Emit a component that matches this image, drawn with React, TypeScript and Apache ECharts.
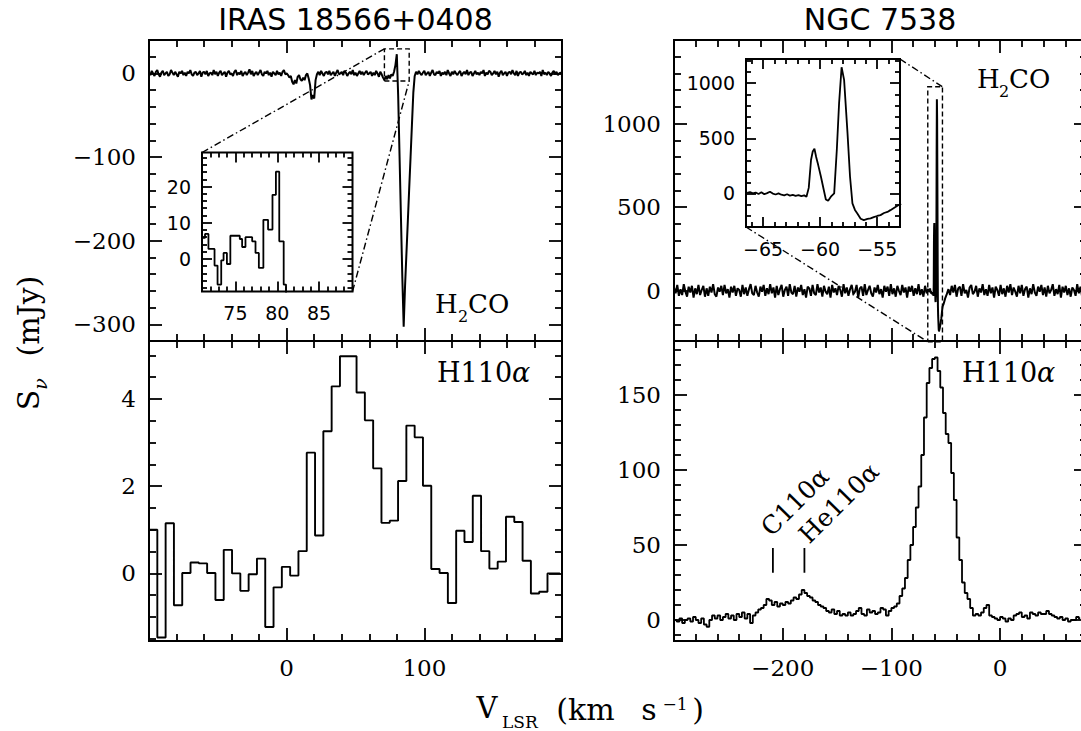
import React, { useEffect, useRef } from "react";
import * as echarts from "echarts";

// ================= DATA =================
// IRAS 18566+0408 – H2CO spectrum (mJy), channels from -100 km/s, 1 km/s apart
const IRAS_H2CO_V0 = -100;
const IRAS_H2CO_DV = 1;
const irasH2co = [
  1, -2, 3, 0, -3, 2, 4, -1, -4, 1,
  3, -2, 0, 2, -3, -1, 4, 1, -2, 2,
  -1, -4, 2, 0, 3, -2, 1, -3, 2, 0,
  4, -1, -3, 1, 2, -2, 0, 3, -4, 1,
  2, -1, 3, -3, 0, 1, -2, 4, -1, 2,
  -3, 1, 3, -2, 0, 2, -4, 1, 3, -1,
  0, -3, 2, 4, -2, 1, -1, 3, -3, 0,
  2, -2, 1, 5, -1, 3, -3, 0, 2, -2,
  1, 4, -1, -3, 2, 0, 3, -2, 1, -4,
  2, 0, -2, 3, -1, 1, -3, 2, 4, -1,
  0, -2, -5, -3, -10, -13, -8, -12, -4, -2,
  -7, -9, -5, -8, -2, 0, -6, -14, -31, -26,
  -30, -8, -1, 2, -2, 3, 0, -3, 1, 2,
  -1, 3, -2, 0, 2, -3, 1, 4, -1, 0,
  2, -2, 3, 1, -3, 0, 2, -1, 4, -2,
  1, -3, 0, 3, -1, 2, -2, 1, 3, -1,
  0, 2, -3, 1, -2, 3, 0, -4, 2, -1,
  -5, -8, -3, -7, -2, -6, -1, -3, 2, 10,
  23, -27, -99, -171, -243, -303, -254, -215, -177, -138,
  -100, -61, -23, -3, 2, -1, 3, 0, -2, 1,
  3, -2, 0, 2, -3, 1, 4, -1, -2, 2,
  0, 3, -3, 1, -1, 2, -2, 4, 0, -3,
  2, -1, 3, 0, -2, 1, 3, -3, 0, 2,
  -1, 4, -2, 1, 2, -3, 0, 3, -1, 1,
  -2, 2, 0, 4, -3, 1, -1, 3, 2, -2,
  0, 3, -1, 2, -4, 1, 3, -2, 0, 2,
  -3, 1, 2, -1, 4, 0, -2, 3, -3, 1,
  2, -1, 0, 3, -2, 1, -3, 2, 0, -1,
  3, -2, 1, 0, 2, -3, 4, -1, 1, -2,
  2, 0, -3, 1, 3, -1, 2, -2, 0, 1, -1,
];

// IRAS inset (zoom of 71–89 km/s): bin left edges (km/s) and flux (mJy)
const irasInsetEdges = [
  70.9, 71.36, 71.77, 72.5, 72.86, 73.3, 73.58, 73.98, 74.39, 75.52, 75.8, 76.2,
  77.0, 77.4, 77.8, 78.34, 78.9, 79.43, 79.84, 80.24, 80.77, 81.05, 81.5, 82.0,
  83.0, 84.0, 85.0, 86.0, 87.0, 88.0, 89.0, 89.5,
];
const irasInsetFlux = [
  5.8, 6.9, 2.75, -1.85, -7.1, -0.4, 1.65, -1.4, 6.4, 5.5, 3.3, 6.0,
  4.85, 1.65, -2.5, 10.8, 8.1, 17.7, 24.1, 4.85, -7.1, -30, -80, -150,
  -230, -300, -260, -210, -160, -110, -60, -30,
];

// IRAS H110α (mJy), channel centres from -103 km/s, 6.03 km/s apart
const IRAS_H110_V0 = -103;
const IRAS_H110_DV = 6.03;
const irasH110 = [
  1.0, 1.0, -1.47, 1.15, -0.73, 0.01, 0.25, 0.23, 0.01, -0.61, 0.54,
  0.0, -0.4, -0.02, 0.34, -1.23, -0.32, 0.15, -0.05, 0.51, 2.77,
  0.87, 3.26, 4.29, 4.98, 4.98, 4.15, 3.51, 2.41, 1.16, 1.21,
  2.12, 3.39, 3.12, 2.01, 0.1, 0.01, -0.68, 0.98, 0.72, 1.78,
  0.51, 0.11, 0.27, 1.3, 1.18, 0.29, -0.46, -0.42, 0.0, 0.0,
];

// NGC 7538 – H2CO (mJy): low-velocity channels from -300 km/s, 1.5 km/s apart
const NGC_H2CO_LOW_V0 = -300;
const NGC_H2CO_DV = 1.5;
const ngcH2coLow = [
  20, -15, 35, -30, 10, -25, 40, -5, -35, 25,
  -10, 30, -40, 15, -20, 35, -25, 5, 30, -35,
  15, -30, 25, -10, 40, -20, -35, 20, -5, 30,
  -25, 35, -15, 10, -40, 25, -10, 30, -30, 15,
  5, -35, 35, -20, 20, -30, 10, 40, -15, -25,
  30, -10, -35, 25, -5, 35, -30, 15, -20, 40,
  -15, 20, -40, 30, -25, 10, 35, -35, 5, 25,
  -30, 40, -10, -20, 30, -35, 20, -5, 35, -25,
  10, -40, 25, 15, -30, 35, -15, -25, 40, -10,
  20, -35, 30, -5, -20, 25, -40, 35, -10, 15,
  -25, 30, 5, -35, 40, -15, 20, -30, 10, 35,
  -20, -5, 35, -40, 15, 25, -30, 40, -25, 5,
  30, -15, -35, 20, -10, 35, -20, 10, -40, 30,
  -5, 25, -30, 40, -20, 15, -35, 30, 0, -25,
  35, -10, 20, -40, 25, -5, 30, -30, 15, -20,
  40, -25, 10, -35, 30, -15,
];
// NGC 7538 – H2CO core (also the inset): velocity (km/s) and flux (mJy)
const ngcCoreV = [
  -66.4, -66.15, -65.9, -65.65, -65.4, -65.15, -64.9, -64.65, -64.4, -64.15,
  -63.9, -63.65, -63.4, -63.15, -62.9, -62.65, -62.4, -62.15, -61.9, -61.65,
  -61.4, -61.2, -61.0, -60.8, -60.65, -60.5, -60.35, -60.17, -59.93, -59.7,
  -59.5, -59.3, -59.06, -58.77, -58.54, -58.34, -58.12, -57.9, -57.6, -57.38,
  -57.17, -56.95, -56.74, -56.45, -56.17, -55.85, -55.58, -55.3, -55.0, -54.71,
  -54.4, -54.1, -53.84, -53.5, -53.12, -52.9,
];
const ngcCoreFlux = [
  5, 12, 0, 8, -5, 10, -8, 3, 15, -2,
  -10, 0, -12, -18, -8, -20, -14, -22, -16, -25,
  -18, -30, 50, 303, 380, 405, 330, 257, 151, 40,
  -55, -67, -30, 0, 394, 818, 1145, 1030, 545, 151,
  -91, -150, -182, -230, -243, -232, -227, -215, -205, -197,
  -178, -168, -152, -130, -106, -95,
];
// NGC 7538 – H2CO high-velocity channels from -52 km/s, 1.5 km/s apart
const NGC_H2CO_HIGH_V0 = -52;
const ngcH2coHigh = [
  -80, -45, -20, 10, -25, 30, -10, 35, -35, 15,
  25, -30, 40, -15, 5, -40, 20, 35, -20, -5,
  30, -35, 15, -10, 40, -25, 10, -30, 35, -15,
  20, -40, 25, 5, -30, 35, -20, 15, -35, 30,
  -10, 40, -25, 20, -5, -35, 30, -15, 35, -30,
  10, 25, -40, 15, -20, 40, -10, -30, 25, -5,
  35, -25, 20, -35, 30, -15, 5, 40, -30, 10,
  -20, 35, -40, 25, -10, 30, -25, 15, -35, 20,
  5, -30, 40, -15, 25, -35, 10, 30, -20,
];

// NGC 7538 H110α (mJy), channel centres from -301.25 km/s, 2.5 km/s apart
const NGC_H110_V0 = -301.25;
const NGC_H110_DV = 2.5;
const ngcH110 = [
  0,
  0, -1, 1, -2, 0, 1, -1, 2, 0, -2,
  1, -3, -4.5, 0, 3, 1, 3, 0, 2, 4,
  1, 3, 0, 4, 2, 5, 1, 4, -2, 3,
  5, 7, 8, 10, 14, 13, 10, 12, 9, 11,
  10, 12, 11, 13, 15, 14, 17, 20, 18, 16,
  15, 13, 12, 10, 9, 8, 6, 5, 7, 4,
  6, 3, 4, 3, 5, 3, 4, 6, 8, 4,
  3, 7, 5, 6, 4, 5, 8, 7, 3, 6,
  8, 9, 11, 16, 21, 28, 40, 50, 62, 75,
  89, 110, 135, 158, 168, 174, 175, 166, 155, 138,
  124, 118, 98, 80, 55, 40, 25, 18, 14, 8,
  3, 4, 3, 5, 8, 10, 3, 2, 1, 0,
  2, 1, -1, 1, 0, 3, 4, 5, 2, 3,
  1, 5, 4, 3, 5, 4, 4, 6, 4, 3,
  2, 1, 2, 0, 1, -1, 0, 0, 2, 1,
];

// C110α / He110α marker positions (km/s) and their extent (mJy)
const recombMarkV = [-209, -180];
const recombMarkS = [31.5, 48];

// tick labels
const irasH2coYLabels = [-300, -200, -100, 0];
const irasH110YLabels = [0, 2, 4];
const irasXLabels = [0, 100];
const ngcH2coYLabels = [0, 500, 1000];
const ngcH110YLabels = [0, 50, 100, 150];
const ngcXLabels = [-200, -100, 0];
const irasInsetXLabels = [75, 80, 85];
const irasInsetYLabels = [0, 10, 20];
const ngcInsetXLabels = [-65, -60, -55];
const ngcInsetYLabels = [0, 500, 1000];

// axis ranges
const IRAS_X: [number, number] = [-100, 200];
const NGC_X: [number, number] = [-300, 80];
const IRAS_H2CO_Y: [number, number] = [-320, 40];
const IRAS_H110_Y: [number, number] = [-1.55, 5.33];
const NGC_H2CO_Y: [number, number] = [-300, 1500];
const NGC_H110_Y: [number, number] = [-14, 186];
const IRAS_INSET_X: [number, number] = [71, 89];
const IRAS_INSET_Y: [number, number] = [-9, 29.4];
const NGC_INSET_X: [number, number] = [-66.5, -53];
const NGC_INSET_Y: [number, number] = [-305, 1220];

// ================= HELPERS =================
const BLACK = "#000";
const fmt = (v: number) => (v < 0 ? "\u2212" + Math.abs(v) : String(v));

function tickRange(min: number, max: number, step: number) {
  const out: number[] = [];
  const start = Math.ceil(min / step - 1e-9) * step;
  for (let k = 0; start + k * step <= max + 1e-9; k++) {
    const v = Math.round((start + k * step) * 1e6) / 1e6;
    if (v > min + 1e-6 && v < max - 1e-6) out.push(v);
  }
  return out;
}

function boxAxes(
  dim: "x" | "y",
  gi: number,
  r: [number, number],
  major: number,
  minor: number,
  labels: number[] | null,
  labelStyle: any,
  majLen: number,
  minLen: number
) {
  const posA = dim === "x" ? "bottom" : "left";
  const posB = dim === "x" ? "top" : "right";
  const majors = tickRange(r[0], r[1], major);
  const minors = tickRange(r[0], r[1], minor).filter(
    (v) => !majors.some((m) => Math.abs(m - v) < 1e-6)
  );
  const mk = (pos: string, vals: number[], len: number, lab: boolean) => ({
    type: "value",
    gridIndex: gi,
    min: r[0],
    max: r[1],
    position: pos,
    axisLine: { show: false, onZero: false },
    splitLine: { show: false },
    splitArea: { show: false },
    minorTick: { show: false },
    axisPointer: { show: false },
    axisTick: {
      show: true,
      inside: true,
      length: len,
      customValues: vals,
      lineStyle: { color: BLACK, width: 1.8 },
    },
    axisLabel:
      lab && labels
        ? { show: true, customValues: labels, formatter: (v: number) => fmt(v), ...labelStyle }
        : { show: false },
  });
  return [
    mk(posA, majors, majLen, true),
    mk(posA, minors, minLen, false),
    mk(posB, majors, majLen, false),
    mk(posB, minors, minLen, false),
  ];
}

const chan = (v0: number, dv: number, arr: number[]) =>
  arr.map((s, i) => [Math.round((v0 + i * dv) * 1000) / 1000, s]);
const pairs = (vs: number[], ss: number[]) => vs.map((v, i) => [v, ss[i]]);

function T(text: string, x: number, y: number, size: number, o: any = {}) {
  const align = o.align || "left";
  return {
    type: "text",
    x,
    y,
    rotation: o.rot || 0,
    silent: true,
    z: 50,
    style: {
      text,
      fill: BLACK,
      fontSize: size,
      fontFamily: o.family || "DejaVu Serif",
      fontStyle: o.italic ? "italic" : "normal",
      align,
      verticalAlign: "middle",
      textAlign: align,
      textVerticalAlign: "middle",
    },
  };
}

export default function App() {
  const ref = useRef<HTMLDivElement>(null);

  useEffect(() => {
    if (!ref.current) return;
    const chart = echarts.init(ref.current, null, { renderer: "svg" });

    const mainY = { color: BLACK, fontFamily: "DejaVu Serif", fontSize: 23, margin: 13 };
    const mainX = { color: BLACK, fontFamily: "DejaVu Serif", fontSize: 23, margin: 15 };
    const insY = { color: BLACK, fontFamily: "DejaVu Sans", fontSize: 19, margin: 11 };
    const insX = { color: BLACK, fontFamily: "DejaVu Sans", fontSize: 19, margin: 12 };

    const gridBase = {
      show: true,
      borderColor: BLACK,
      borderWidth: 2,
      backgroundColor: "transparent",
      containLabel: false,
      outerBoundsMode: "none",
    };
    const grid = [
      { ...gridBase, left: 149, top: 40, width: 413, height: 301 },
      { ...gridBase, left: 149, top: 341, width: 413, height: 300 },
      { ...gridBase, left: 674, top: 40, width: 413, height: 301 },
      { ...gridBase, left: 674, top: 341, width: 413, height: 300 },
      { ...gridBase, left: 202, top: 152.5, width: 150.5, height: 139, backgroundColor: "#fff" },
      { ...gridBase, left: 746, top: 59, width: 154, height: 168, backgroundColor: "#fff" },
    ];

    const xAxis = [
      ...boxAxes("x", 0, IRAS_X, 100, 20, null, mainX, 13, 7),
      ...boxAxes("x", 1, IRAS_X, 100, 20, irasXLabels, mainX, 13, 7),
      ...boxAxes("x", 2, NGC_X, 100, 20, null, mainX, 13, 7),
      ...boxAxes("x", 3, NGC_X, 100, 20, ngcXLabels, mainX, 13, 7),
      ...boxAxes("x", 4, IRAS_INSET_X, 5, 1, irasInsetXLabels, insX, 10, 5),
      ...boxAxes("x", 5, NGC_INSET_X, 5, 1, ngcInsetXLabels, insX, 10, 5),
    ];
    const yAxis = [
      ...boxAxes("y", 0, IRAS_H2CO_Y, 100, 20, irasH2coYLabels, mainY, 13, 7),
      ...boxAxes("y", 1, IRAS_H110_Y, 2, 0.5, irasH110YLabels, mainY, 13, 7),
      ...boxAxes("y", 2, NGC_H2CO_Y, 500, 100, ngcH2coYLabels, mainY, 13, 7),
      ...boxAxes("y", 3, NGC_H110_Y, 50, 10, ngcH110YLabels, mainY, 13, 7),
      ...boxAxes("y", 4, IRAS_INSET_Y, 10, 2, irasInsetYLabels, insY, 10, 5),
      ...boxAxes("y", 5, NGC_INSET_Y, 500, 100, ngcInsetYLabels, insY, 10, 5),
    ];

    const lineS = (g: number, data: number[][], width: number, step?: string) => ({
      type: "line",
      xAxisIndex: g * 4,
      yAxisIndex: g * 4,
      data,
      step: step || false,
      showSymbol: false,
      symbol: "none",
      silent: true,
      clip: true,
      lineStyle: { color: BLACK, width },
      z: 5,
    });

    const ngcCore = pairs(ngcCoreV, ngcCoreFlux);
    const ngcMain = [
      ...chan(NGC_H2CO_LOW_V0, NGC_H2CO_DV, ngcH2coLow),
      ...ngcCore,
      ...chan(NGC_H2CO_HIGH_V0, NGC_H2CO_DV, ngcH2coHigh),
    ];

    const series: any[] = [
      lineS(0, chan(IRAS_H2CO_V0, IRAS_H2CO_DV, irasH2co), 2),
      lineS(1, chan(IRAS_H110_V0, IRAS_H110_DV, irasH110), 1.9, "middle"),
      lineS(2, ngcMain, 2),
      lineS(3, chan(NGC_H110_V0, NGC_H110_DV, ngcH110), 1.8, "middle"),
      lineS(4, pairs(irasInsetEdges, irasInsetFlux), 1.8, "end"),
      lineS(5, ngcCore, 1.8),
      ...recombMarkV.map((v) => lineS(3, [[v, recombMarkS[0]], [v, recombMarkS[1]]], 1.8)),
    ];

    chart.setOption({
      animation: false,
      backgroundColor: "#fff",
      grid,
      xAxis,
      yAxis,
      series,
    });

    const px = (g: number, x: number, y: number) =>
      chart.convertToPixel({ xAxisIndex: g * 4, yAxisIndex: g * 4 } as any, [x, y]) as number[];
    const poly = (pts: number[][], dash: number[]) => ({
      type: "polyline",
      silent: true,
      z: 40,
      shape: { points: pts },
      style: { stroke: BLACK, lineWidth: 1.4, lineDash: dash, fill: null },
    });
    const dashDot = [7, 3, 1.5, 3];

    const [ix0, ix1] = IRAS_INSET_X;
    const [iy0, iy1] = IRAS_INSET_Y;
    const [nx0, nx1] = NGC_INSET_X;
    const [ny0, ny1] = NGC_INSET_Y;

    const graphic: any[] = [
      // zoom boxes + connectors
      poly([px(0, ix0, iy0), px(0, ix1, iy0), px(0, ix1, iy1), px(0, ix0, iy1), px(0, ix0, iy0)], [5, 3]),
      poly([px(4, ix0, iy1), px(0, ix0, iy1)], dashDot),
      poly([px(4, ix1, iy0), px(0, ix1, iy0)], dashDot),
      poly([px(2, nx0, ny0), px(2, nx1, ny0), px(2, nx1, ny1), px(2, nx0, ny1), px(2, nx0, ny0)], [5, 3]),
      poly([px(5, nx1, ny1), px(2, nx1, ny1)], dashDot),
      poly([px(5, nx0, ny0), px(2, nx0, ny0)], dashDot),

      // titles
      T("IRAS 18566+0408", 355.5, 19.5, 30, { family: "DejaVu Sans", align: "center" }),
      T("NGC 7538", 880, 19.5, 30, { family: "DejaVu Sans", align: "center" }),

      // species labels
      T("H", 435, 304.3, 26),
      T("2", 458, 316.2, 16),
      T("CO", 468, 304.3, 26),
      T("H", 977, 79.3, 26),
      T("2", 999, 91.2, 16),
      T("CO", 1009, 79.3, 26),
      T("H110", 437, 372.4, 27),
      T("α", 512, 372.4, 27, { italic: true }),
      T("H110", 962, 372.4, 27),
      T("α", 1037, 372.4, 27, { italic: true }),
      T("C110α", 795, 502, 25, { rot: Math.PI / 4, align: "center" }),
      T("He110α", 839, 503, 25, { rot: Math.PI / 4, align: "center" }),

      // y axis title
      T("S", 28, 400, 30, { rot: Math.PI / 2, align: "center" }),
      T("ν", 40, 384, 19, { rot: Math.PI / 2, align: "center", italic: true }),
      T("(mJy)", 28, 316, 30, { rot: Math.PI / 2, align: "center" }),

      // x axis title
      T("V", 487, 708.3, 29, { align: "center" }),
      T("LSR", 502, 721.5, 17),
      T("(km", 585.5, 709.3, 30, { align: "center" }),
      T("s", 649, 709.3, 30, { align: "center" }),
      T("\u22121", 675, 703.5, 17, { align: "center" }),
      T(")", 698, 709.3, 30, { align: "center" }),
    ];

    chart.setOption({ graphic });

    return () => chart.dispose();
  }, []);

  return (
    <div
      ref={ref}
      style={{ position: "absolute", left: 0, top: 0, width: 1081, height: 731, background: "#fff" }}
    />
  );
}
